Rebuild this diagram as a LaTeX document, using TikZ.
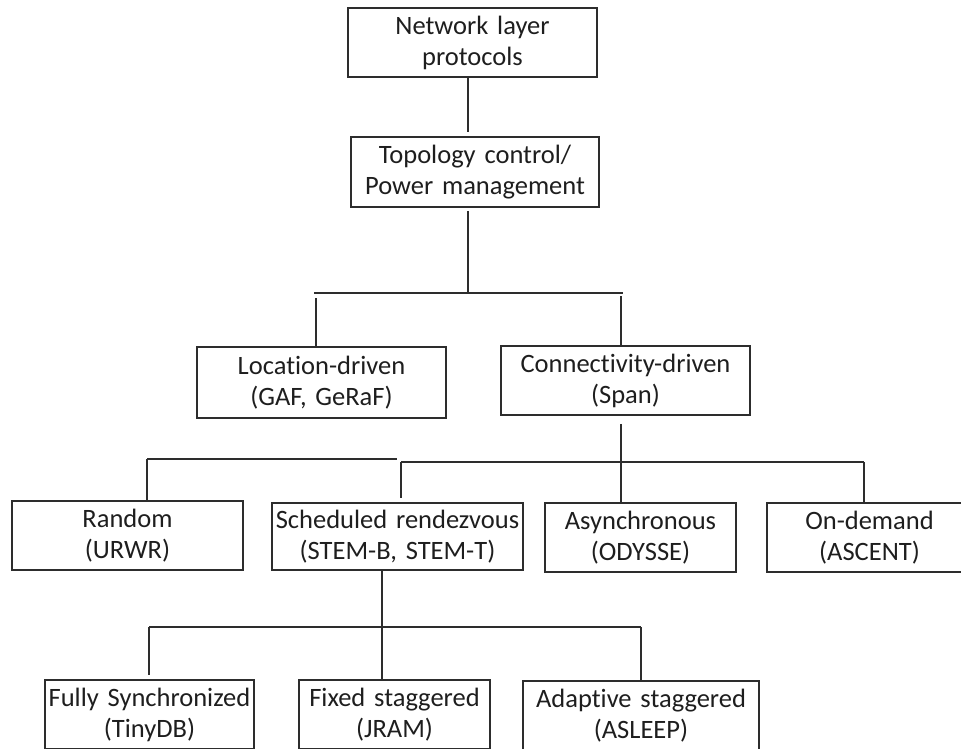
\documentclass[tikz,border=0pt]{standalone}
\usepackage{fontspec}
\setmainfont{Carlito}[RawFeature={-liga;-clig;-calt;-dlig}]
\definecolor{linec}{RGB}{45,45,45}
\definecolor{textc}{RGB}{30,30,30}
\begin{document}
\frenchspacing
\begin{tikzpicture}[x=1pt,y=-1pt,
  box/.style={draw=linec, line width=1.8pt, inner sep=0pt, align=center, text=textc,
    font=\fontsize{26.5}{31}\selectfont\frenchspacing},
  conn/.style={draw=linec, line width=1.4pt}]
\useasboundingbox (0,0) rectangle (961,748);
% boxes
\node[box, minimum width=249pt, text width=249pt, minimum height=69pt] (net) at (472.5,42.5) {Network layer\\protocols};
\node[box, minimum width=248pt, text width=248pt, minimum height=70pt] (topo) at (475,172) {Topology control/\\Power management};
\node[box, minimum width=249pt, text width=249pt, minimum height=71pt] (loc) at (321.5,382.5) {Locat\kern0pt ion-driven\\(GAF, GeRaF)};
\node[box, minimum width=249pt, text width=249pt, minimum height=69pt] (conn) at (625.5,380.5) {Connect\kern0pt ivity-driven\\(Span)};
\node[box, minimum width=231pt, text width=231pt, minimum height=69pt] (rand) at (127.5,535.5) {Random\\(URWR)};
\node[box, minimum width=251pt, text width=251pt, minimum height=67pt] (sched) at (397.5,536.5) {Scheduled rendezvous\\(STEM-B, STEM-T)};
\node[box, minimum width=191pt, text width=191pt, minimum height=69pt] (async) at (640.5,537.5) {Asynchronous\\(ODYSSE)};
\node[box, minimum width=205pt, text width=205pt, minimum height=69pt] (ondem) at (869.5,537.5) {On-demand\\(ASCENT)};
\node[box, minimum width=209pt, text width=209pt, minimum height=69pt] (fully) at (149.5,714.5) {Fully Synchronized\\(TinyDB)};
\node[box, minimum width=191pt, text width=191pt, minimum height=69pt] (fixed) at (394.5,714.5) {Fixed staggered\\(JRAM)};
\node[box, minimum width=236pt, text width=236pt, minimum height=69pt] (adapt) at (641,715.5) {Adapt\kern0pt ive staggered\\(ASLEEP)};
% level 1
\coordinate (x1) at (468,0);
\draw[conn] (net.south -| x1) -- ([yshift=4pt]topo.north -| x1);
% level 2
\coordinate (t1) at (468,293);
\coordinate (t1l) at (314,293);
\coordinate (t1r) at (623,293);
\coordinate (dL) at (316,298);
\coordinate (dR) at (621,296);
\draw[conn] ([yshift=-3pt]topo.south -| t1) -- (t1);
\draw[conn] (t1l) -- (t1r);
\draw[conn] (dL) -- (dL |- loc.north);
\draw[conn] (dR) -- (dR |- conn.north);
% level 3
\coordinate (c2) at (621,0);
\coordinate (h2a) at (147,459);
\coordinate (h2b) at (397,459);
\coordinate (h3a) at (401,462);
\coordinate (h3b) at (864,462);
\draw[conn] ([yshift=-8pt]conn.south -| c2) -- (c2 |- async.north);
\draw[conn] (h2a) -- (h2b);
\draw[conn] (h3a) -- (h3b);
\draw[conn] (h2a) -- (h2a |- rand.north);
\draw[conn] (h3a) -- ([yshift=4pt]h3a |- sched.north);
\draw[conn] (h3b) -- (h3b |- ondem.north);
% level 4
\coordinate (c3) at (382,0);
\coordinate (h4a) at (149,627);
\coordinate (h4b) at (641,627);
\draw[conn] (sched.south -| c3) -- (c3 |- fixed.north);
\draw[conn] (h4a) -- (h4b);
\draw[conn] (h4a) -- ([yshift=4pt]h4a |- fully.north);
\draw[conn] (h4b) -- (h4b |- adapt.north);
\end{tikzpicture}
\end{document}
